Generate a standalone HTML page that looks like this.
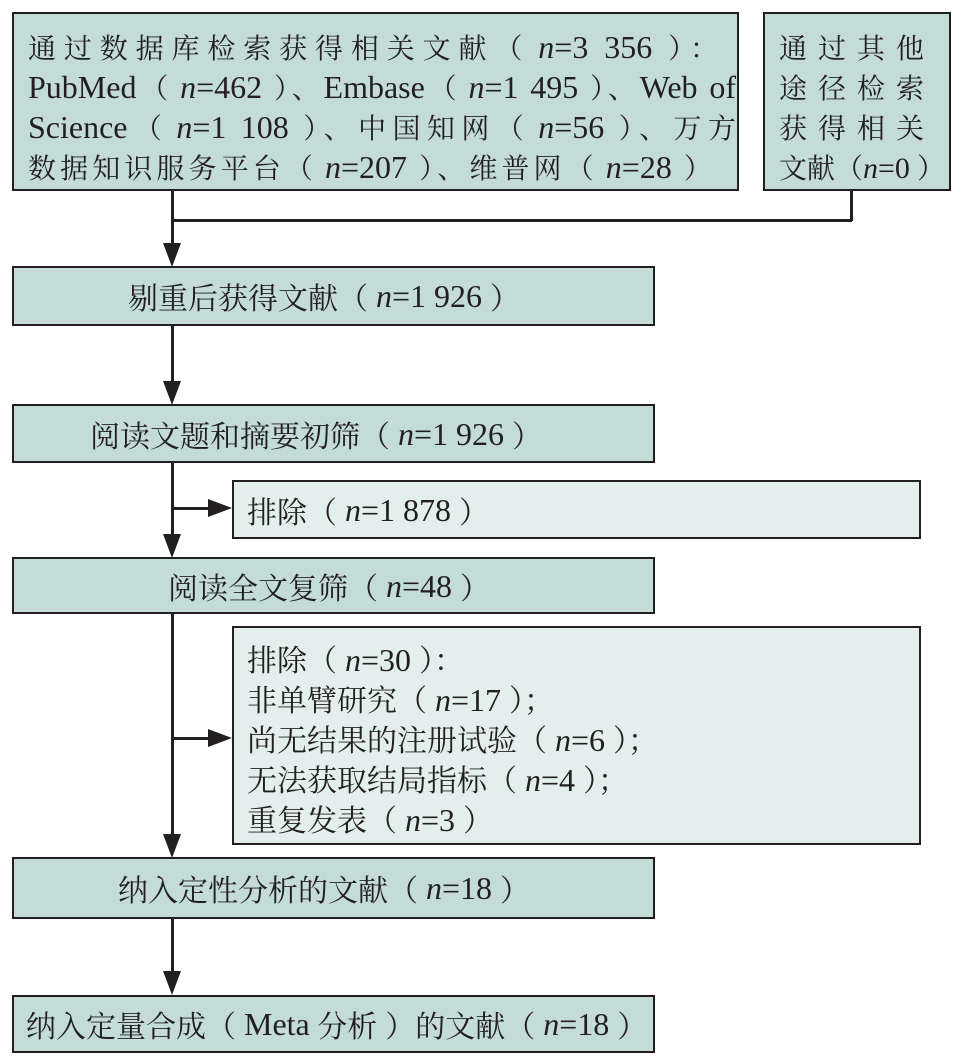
<!DOCTYPE html>
<html><head><meta charset="utf-8"><style>
body{margin:0;width:960px;height:1059px;background:#fff;position:relative;overflow:hidden;font-family:"Liberation Serif","Noto Serif CJK SC",serif;color:#231f20}
.b{position:absolute;box-sizing:border-box;border:2.5px solid #231f20;background:#c3dcd8;font-size:30px;white-space:nowrap}
.e{background:#e3efed}
.l{position:absolute;background:#231f20}
.a{position:absolute;width:0;height:0}
.d{border-left:9px solid transparent;border-right:9px solid transparent;border-top:24px solid #231f20}
.r{border-top:9px solid transparent;border-bottom:9px solid transparent;border-left:24px solid #231f20}
i{font-style:italic}
.n{font-size:32px;line-height:1}
.o{margin-right:8px}
.x{margin-left:8px}
.c{display:flex;align-items:center}
.j{text-align:justify;text-align-last:justify}
.ln{height:40px;line-height:40px;overflow:visible}
</style></head><body>
<div class="b" style="left:12px;top:12px;width:727px;height:179px;padding:16px 0 0 14px;font-size:28px">
<div class="j ln" style="width:690px">通过数据库检索获得相关文献<span class="o">（</span><span class="n"><i>n</i>=3 356</span><span class="x">）</span>：</div>
<div class="j ln" style="width:708px"><span class="n">PubMed</span><span class="o">（</span><span class="n"><i>n</i>=462</span><span class="x">）</span>、<span class="n">Embase</span><span class="o">（</span><span class="n"><i>n</i>=1 495</span><span class="x">）</span>、<span class="n">Web of</span></div>
<div class="j ln" style="width:708px"><span class="n">Science</span><span class="o">（</span><span class="n"><i>n</i>=1 108</span><span class="x">）</span>、中国知网<span class="o">（</span><span class="n"><i>n</i>=56</span><span class="x">）</span>、万方</div>
<div class="j ln" style="width:684px">数据知识服务平台<span class="o">（</span><span class="n"><i>n</i>=207</span><span class="x">）</span>、维普网<span class="o">（</span><span class="n"><i>n</i>=28</span><span class="x">）</span></div>
</div>
<div class="b" style="left:763px;top:12px;width:188px;height:179px;padding:16px 0 0 14px;font-size:28px">
<div class="ln" style="letter-spacing:11px">通过其他</div><div class="ln" style="letter-spacing:11px">途径检索</div><div class="ln" style="letter-spacing:11px">获得相关</div><div class="ln">文献（<span class="n" style="font-size:30px"><i>n</i>=0</span>&nbsp;）</div>
</div>
<div class="l" style="left:171px;top:190px;width:2.5px;height:55px"></div>
<div class="l" style="left:850px;top:190px;width:2.5px;height:31px"></div>
<div class="l" style="left:171px;top:219px;width:681px;height:2.5px"></div>
<div class="a d" style="left:163px;top:243px"></div>

<div class="b c" style="left:12px;top:266px;width:643px;height:60px;padding-left:114px">剔重后获得文献<span class="o">（</span><span class="n"><i>n</i>=1 926</span><span class="x">）</span></div>
<div class="l" style="left:171px;top:325px;width:2.5px;height:60px"></div>
<div class="a d" style="left:163px;top:381px"></div>

<div class="b c" style="left:12px;top:404px;width:643px;height:59px;padding-left:76px">阅读文题和摘要初筛<span class="o">（</span><span class="n"><i>n</i>=1 926</span><span class="x">）</span></div>
<div class="l" style="left:171px;top:462px;width:2.5px;height:75px"></div>
<div class="a d" style="left:163px;top:534px"></div>
<div class="l" style="left:171px;top:507px;width:45px;height:2.5px"></div>
<div class="a r" style="left:208px;top:499px"></div>
<div class="b e c" style="left:232px;top:480px;width:689px;height:59px;padding-left:13px">排除<span class="o">（</span><span class="n"><i>n</i>=1 878</span><span class="x">）</span></div>

<div class="b c" style="left:12px;top:557px;width:643px;height:57px;padding-left:154px">阅读全文复筛<span class="o">（</span><span class="n"><i>n</i>=48</span><span class="x">）</span></div>
<div class="l" style="left:171px;top:613px;width:2.5px;height:222px"></div>
<div class="a d" style="left:163px;top:834px"></div>
<div class="l" style="left:171px;top:737px;width:45px;height:2.5px"></div>
<div class="a r" style="left:208px;top:729px"></div>
<div class="b e" style="left:232px;top:626px;width:689px;height:219px;padding:14px 0 0 13px">
<div class="ln">排除<span class="o">（</span><span class="n"><i>n</i>=30</span><span class="x">）</span>：</div><div class="ln">非单臂研究<span class="o">（</span><span class="n"><i>n</i>=17</span><span class="x">）</span>；</div><div class="ln">尚无结果的注册试验<span class="o">（</span><span class="n"><i>n</i>=6</span><span class="x">）</span>；</div><div class="ln">无法获取结局指标<span class="o">（</span><span class="n"><i>n</i>=4</span><span class="x">）</span>；</div><div class="ln">重复发表<span class="o">（</span><span class="n"><i>n</i>=3</span><span class="x">）</span></div>
</div>

<div class="b c" style="left:12px;top:857px;width:643px;height:62px;padding-left:104px">纳入定性分析的文献<span class="o">（</span><span class="n"><i>n</i>=18</span><span class="x">）</span></div>
<div class="l" style="left:171px;top:918px;width:2.5px;height:56px"></div>
<div class="a d" style="left:163px;top:971px"></div>

<div class="b c" style="left:12px;top:995px;width:643px;height:58px;padding-left:12px">纳入定量合成<span class="o">（</span><span class="n">Meta</span>&nbsp;分析<span class="x">）</span>的文献<span class="o">（</span><span class="n"><i>n</i>=18</span><span class="x">）</span></div>
</body></html>
